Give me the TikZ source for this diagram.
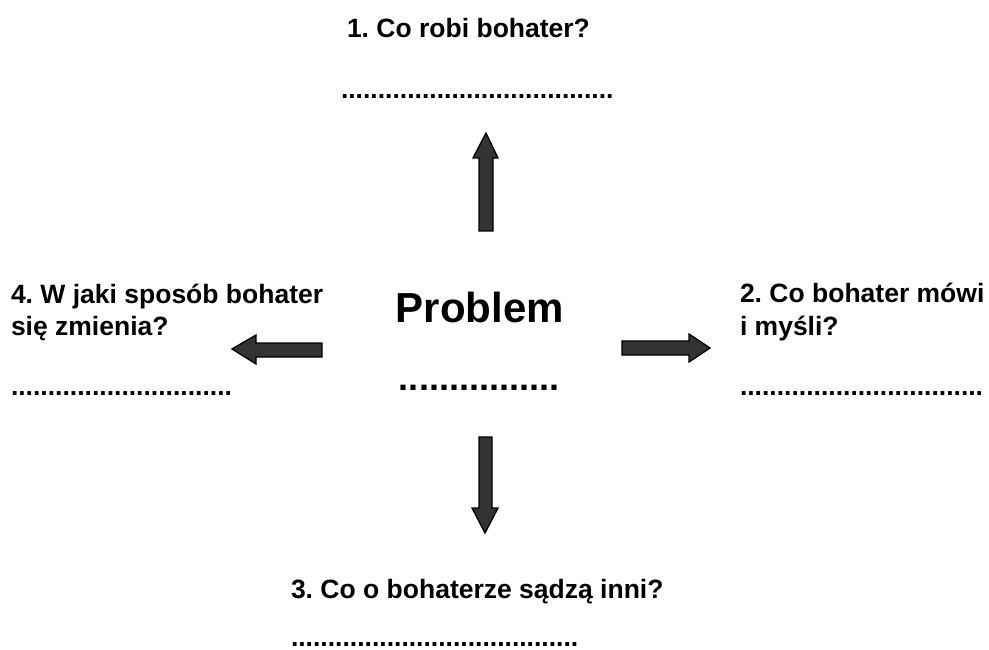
\documentclass[tikz,border=0pt]{standalone}
\usepackage{fontspec}
\setmainfont{Liberation Sans}
\frenchspacing
\begin{document}
\begin{tikzpicture}[x=1pt,y=-1pt,
  lbl/.style={inner sep=0pt, outer sep=0pt, anchor=base west, font=\bfseries\fontsize{26.5}{32}\selectfont},
  blockarrow/.style={draw=black, line width=1.3pt, fill=black!80, line join=miter}]
\useasboundingbox (0,0) rectangle (989,650);
% top
\node[lbl] (t1) at (347,38) {1. Co robi bohater?};
\node[lbl] (t1d) at (341,99) {.....................................};
% right
\node[lbl] (r1) at (740,302) {2. Co bohater mówi};
\node[lbl] (r2) at (740,335) {i myśli?};
\node[lbl] (rd) at (740,395) {.................................};
% bottom
\node[lbl] (b1) at (291,598) {3. Co o bohaterze sądzą inni?};
\node[lbl] (bd) at (291,646) {.......................................};
% left
\node[lbl] (l1) at (11,303) {4. W jaki sposób bohater};
\node[lbl] (l2) at (11,335) {się zmienia?};
\node[lbl] (ld) at (11,395) {..............................};
% centre
\node[inner sep=0pt, anchor=base, font=\bfseries\fontsize{42}{48}\selectfont] (p) at (480,322) {Problem};
\node[inner sep=0pt, anchor=base, font=\bfseries\fontsize{36}{40}\selectfont] (pd) at (479,390) {................};
% arrows
\draw[blockarrow] (486,133) -- (498,158) -- (493,158) -- (493,231) -- (479,231) -- (479,158) -- (473,158) -- cycle;
\draw[blockarrow] (485,533) -- (498,508) -- (492,508) -- (492,437) -- (479,437) -- (479,508) -- (472,508) -- cycle;
\draw[blockarrow] (232,349) -- (256,335) -- (256,343) -- (322,343) -- (322,357) -- (256,357) -- (256,364) -- cycle;
\draw[blockarrow] (710,348) -- (689,334) -- (689,341) -- (622,341) -- (622,355) -- (689,355) -- (689,362) -- cycle;
\end{tikzpicture}
\end{document}
